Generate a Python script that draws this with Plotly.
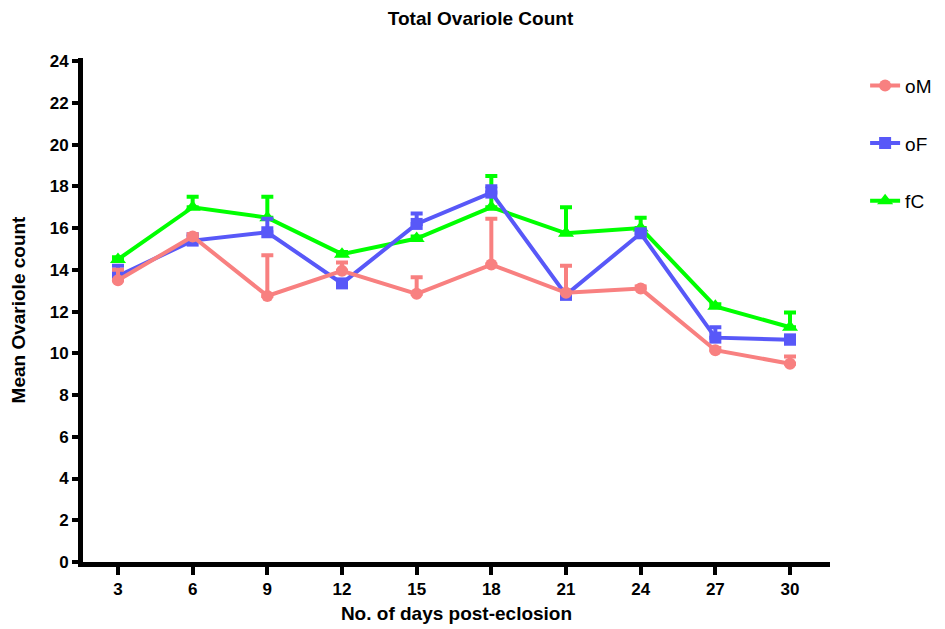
import plotly.graph_objects as go

days = [3, 6, 9, 12, 15, 18, 21, 24, 27, 30]

oM_mean = [13.5, 15.6, 12.75, 13.95, 12.85, 14.25, 12.9, 13.1, 10.15, 9.5]
oM_err = [0.5, 0.1, 1.95, 0.4, 0.8, 2.2, 1.3, 0.1, 0.1, 0.35]

oF_mean = [13.7, 15.4, 15.8, 13.35, 16.2, 17.7, 12.8, 15.75, 10.75, 10.65]
oF_err = [0.5, 0.3, 0.65, 0.1, 0.5, 0.3, 0.2, 0.15, 0.5, 0.2]

fC_mean = [14.5, 17.0, 16.5, 14.75, 15.5, 17.0, 15.75, 16.0, 12.25, 11.25]
fC_err = [0.1, 0.5, 1.0, 0.1, 0.1, 1.5, 1.25, 0.5, 0.1, 0.7]

x_ticks = [3, 6, 9, 12, 15, 18, 21, 24, 27, 30]
y_ticks = list(range(0, 25, 2))

col_oM = "#F88080"
col_oF = "#5858F8"
col_fC = "#00FF00"

fig = go.Figure()

def add_series(name, mean, err, color, symbol, size, group, rank):
    fig.add_trace(go.Scatter(
        x=days, y=mean, name=name, mode="lines+markers",
        legendgroup=group, legendrank=rank,
        line=dict(color=color, width=4),
        marker=dict(color=color, symbol=symbol, size=size),
        error_y=dict(type="data", symmetric=False, array=err,
                     arrayminus=[0] * len(err), color=color,
                     thickness=4, width=6),
    ))

# drawn bottom to top: fC, oF, oM; legend ranked oM, oF, fC
add_series("fC", fC_mean, fC_err, col_fC, "triangle-up", 14, "c", 3)
add_series("oF", oF_mean, oF_err, col_oF, "square", 12, "b", 2)
add_series("oM", oM_mean, oM_err, col_oM, "circle", 12, "a", 1)

font_family = "Liberation Sans, Arial, sans-serif"

fig.update_layout(
    width=945, height=629,
    margin=dict(l=75, r=123, t=50, b=75, autoexpand=False),
    paper_bgcolor="white", plot_bgcolor="white",
    title=dict(text="<b>Total Ovariole Count</b>", x=0.5, xanchor="center",
               y=0.984, yanchor="middle",
               font=dict(family=font_family, size=19, color="black")),
    showlegend=True,
    legend=dict(x=1.047, y=0.983, xanchor="left", yanchor="top",
                traceorder="grouped", tracegroupgap=30,
                font=dict(family=font_family, size=19, color="black"),
                bgcolor="rgba(0,0,0,0)", itemwidth=30),
    font=dict(family=font_family, color="black"),
)

fig.update_xaxes(
    range=[1.594, 31.607], tickvals=x_ticks,
    ticktext=[f"<b>{t}</b>" for t in x_ticks],
    showgrid=False, zeroline=False, automargin=False,
    showline=True, linecolor="black", linewidth=5,
    ticks="outside", ticklen=8, tickwidth=4, tickcolor="black",
    tickfont=dict(family=font_family, size=17, color="black"),
    title=dict(text="<b>No. of days post-eclosion</b>", standoff=10,
               font=dict(family=font_family, size=19, color="black")),
)

fig.update_yaxes(
    range=[0, 24.15], tickvals=y_ticks,
    ticktext=[f"<b>{t}</b>" for t in y_ticks],
    showgrid=False, zeroline=False, automargin=False,
    showline=True, linecolor="black", linewidth=5,
    ticks="outside", ticklen=6, tickwidth=4, tickcolor="black",
    tickfont=dict(family=font_family, size=17, color="black"),
    title=dict(text="<b>Mean Ovariole count</b>", standoff=28,
               font=dict(family=font_family, size=19, color="black")),
)

fig.write_html("out.html")
